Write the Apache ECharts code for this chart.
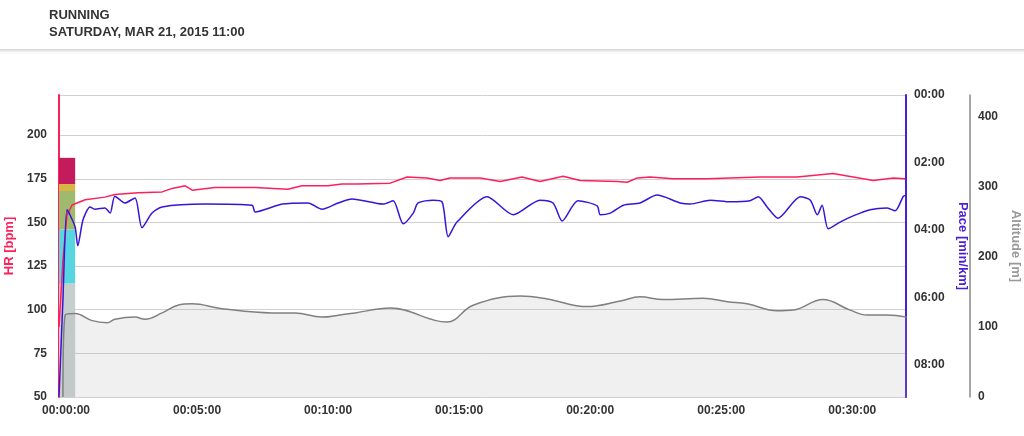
<!DOCTYPE html>
<html><head><meta charset="utf-8">
<script src="https://cdn.jsdelivr.net/npm/echarts@6/dist/echarts.min.js"></script>
<style>html,body{margin:0;padding:0;background:#fff}#c{width:1024px;height:436px}</style>
</head><body><div id="c"></div>
<script>
// time in seconds
var hrData = [[-16,90],[-7,128],[2,154],[14,160],[44,163],[89,164.5],[112,166],[165,167],[220,167.5],[243,169.5],[273,171],[289,168.5],[341,170],[433,170],[508,169],[540,171],[600,171],[632,172],[666,172],[742,172.5],[781,176],[827,175.5],[856,174],[879,175.5],[948,175.5],[994,173.5],[1044,176],[1085,173.5],[1138,176.5],[1177,174],[1262,173.5],[1285,173],[1308,175.5],[1337,176],[1390,175],[1468,175],[1589,176],[1674,176],[1756,178],[1802,176],[1848,174],[1894,175.5],[1921,175]];
var paceData = [[-16,537],[-7,364],[2,204],[9,213],[21,235],[27,268],[39,222],[55,199],[66,203],[89,201],[101,210],[112,180],[135,192],[158,183],[174,236],[197,210],[220,199],[318,194],[426,196],[433,208],[495,194],[554,192],[586,203],[623,192],[655,185],[726,194],[749,188],[772,229],[795,210],[806,192],[840,187],[861,190],[875,252],[895,226],[964,181],[1024,213],[1085,187],[1115,192],[1136,224],[1172,188],[1216,197],[1223,213],[1246,210],[1276,196],[1314,192],[1353,178],[1406,192],[1429,194],[1475,187],[1521,190],[1566,188],[1585,181],[1605,199],[1630,219],[1681,181],[1704,187],[1720,213],[1731,196],[1745,238],[1772,226],[1802,215],[1841,204],[1880,201],[1898,206],[1917,180],[1923,178]];
var altData = [[-7,0],[-2,117],[21,119],[60,109],[94,106],[112,111],[158,114],[181,111],[220,120],[256,131],[289,133],[357,126],[472,120],[524,120],[586,114],[627,117],[662,120],[742,127],[872,107],[932,131],[1040,144],[1101,140],[1193,129],[1269,137],[1314,143],[1367,139],[1459,141],[1514,136],[1559,133],[1628,123],[1665,124],[1733,139],[1795,124],[1834,117],[1880,117],[1925,114]];
var zoneStart = -16, zoneEnd = 21;
var zones = [[50,115,'#c7cfce'],[115,146,'#57d6e2'],[146,168,'#9fba6c'],[168,172,'#d5b544'],[172,187,'#c41b5c']];
var xTicks = [0,300,600,900,1200,1500,1800];
var titleLines = ['RUNNING','SATURDAY, MAR 21, 2015 11:00'];

function pad(n){return (n<10?'0':'')+n;}
function hms(v){v=Math.round(v);return pad(Math.floor(v/3600))+':'+pad(Math.floor(v/60)%60)+':'+pad(v%60);}
function ms(v){v=Math.round(v);return pad(Math.floor(v/60))+':'+pad(v%60);}
var lab = {color:'#333',fontWeight:'bold',fontSize:12,fontFamily:'Liberation Sans'};
var chart = echarts.init(document.getElementById('c'));
chart.setOption({
  animation:false,
  graphic:[
    {type:'rect',shape:{x:-10,y:0,width:1044,height:49},style:{fill:'#fff',shadowBlur:4,shadowColor:'rgba(0,0,0,0.25)',shadowOffsetY:1},z:0},
    {type:'text',left:49,top:7,style:{text:titleLines.join('\n'),font:'bold 13px "Liberation Sans"',fill:'#333',lineHeight:17},z:1}
  ],
  grid:{left:59,right:118,top:95,bottom:39,outerBoundsMode:'none',containLabel:false},
  xAxis:{type:'value',min:-16,max:1923,
    axisLine:{show:false},axisTick:{show:false},splitLine:{show:false},
    axisLabel:Object.assign({customValues:xTicks,formatter:hms,margin:8},lab)},
  yAxis:[
    {type:'value',min:50,max:223,interval:25,position:'left',
     axisLine:{show:true,onZero:false,lineStyle:{color:'#ff1f5a',width:2}},axisTick:{show:false},
     splitLine:{lineStyle:{color:'#d0d0d0',width:1}},
     axisLabel:Object.assign({margin:12,showMaxLabel:false},lab),
     name:'HR [bpm]',nameLocation:'middle',nameGap:34,nameRotate:90,
     nameTextStyle:{color:'#ff1f5a',fontWeight:'bold',fontSize:13,fontFamily:'Liberation Sans'}},
    {type:'value',min:0,max:537,interval:120,inverse:true,position:'right',
     axisLine:{show:true,onZero:false,lineStyle:{color:'#4a1fd8',width:2}},axisTick:{show:false},splitLine:{show:false},
     axisLabel:Object.assign({formatter:ms,margin:8,showMaxLabel:false},lab),
     name:'Pace [min/km]',nameLocation:'middle',nameGap:50,nameRotate:-90,
     nameTextStyle:{color:'#4a1fd8',fontWeight:'bold',fontSize:13,fontFamily:'Liberation Sans'}},
    {type:'value',min:0,max:431,interval:100,position:'right',offset:64,
     axisLine:{show:true,onZero:false,lineStyle:{color:'#888',width:1.5}},axisTick:{show:false},splitLine:{show:false},
     axisLabel:Object.assign({margin:8,showMaxLabel:false},lab),
     name:'Altitude [m]',nameLocation:'middle',nameGap:34,nameRotate:-90,
     nameTextStyle:{color:'#999',fontWeight:'bold',fontSize:13,fontFamily:'Liberation Sans'}}
  ],
  series:[
    {type:'line',yAxisIndex:0,data:[],z:1,
     markArea:{silent:true,data:zones.map(function(z){return [{xAxis:zoneStart,yAxis:z[0],itemStyle:{color:z[2]}},{xAxis:zoneEnd,yAxis:z[1]}];})}},
    {type:'line',yAxisIndex:2,data:altData,smooth:0.4,symbol:'none',z:2,
     lineStyle:{color:'#808080',width:1.5},areaStyle:{color:'rgba(180,180,180,0.28)'}},
    {type:'line',yAxisIndex:0,data:hrData,symbol:'none',z:3,lineStyle:{color:'#ff1f5a',width:1.5}},
    {type:'line',yAxisIndex:1,data:paceData,smooth:0.25,symbol:'none',z:4,lineStyle:{color:'#3a14d6',width:1.5}}
  ]
});
</script></body></html>
